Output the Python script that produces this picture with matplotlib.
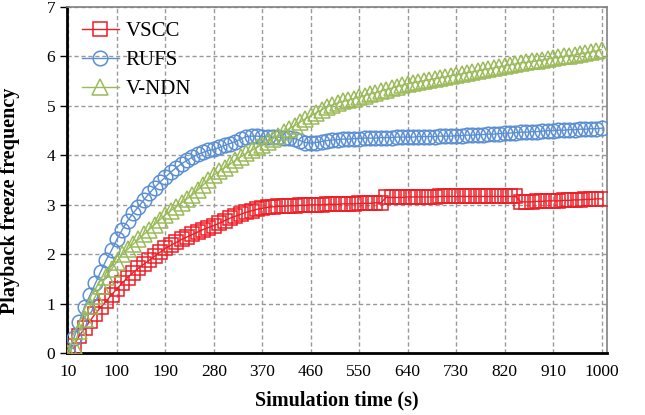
import numpy as np
import matplotlib
matplotlib.use("Agg")
import matplotlib.pyplot as plt

plt.rcParams['font.family'] = ['Liberation Serif', 'DejaVu Serif']

# simulation time (s), one point every 10 s
time_s = list(range(10, 1001, 10))

vscc = [0.00, 0.15, 0.35, 0.50, 0.65, 0.80, 0.93, 1.05, 1.18, 1.30,
        1.42, 1.53, 1.63, 1.72, 1.80, 1.88, 1.96, 2.04, 2.12, 2.18,
        2.24, 2.30, 2.35, 2.40, 2.45, 2.50, 2.54, 2.58, 2.63, 2.68,
        2.73, 2.77, 2.81, 2.85, 2.88, 2.91, 2.93, 2.95, 2.96, 2.97,
        2.97, 2.98, 2.98, 2.99, 2.99, 3.00, 3.00, 3.00, 3.01, 3.01,
        3.01, 3.02, 3.02, 3.02, 3.03, 3.03, 3.03, 3.04, 3.04, 3.15,
        3.15, 3.15, 3.15, 3.16, 3.16, 3.16, 3.16, 3.16, 3.16, 3.17,
        3.17, 3.17, 3.17, 3.17, 3.17, 3.17, 3.17, 3.17, 3.17, 3.17,
        3.17, 3.17, 3.17, 3.17, 3.06, 3.06, 3.06, 3.07, 3.07, 3.08,
        3.08, 3.08, 3.09, 3.09, 3.10, 3.10, 3.11, 3.11, 3.12, 3.12]

rufs = [0.00, 0.30, 0.63, 0.94, 1.17, 1.41, 1.65, 1.88, 2.08, 2.30,
        2.50, 2.68, 2.83, 2.96, 3.10, 3.23, 3.35, 3.46, 3.56, 3.66,
        3.75, 3.83, 3.90, 3.96, 4.02, 4.06, 4.10, 4.12, 4.16, 4.20,
        4.24, 4.28, 4.33, 4.38, 4.39, 4.39, 4.38, 4.38, 4.37, 4.37,
        4.36, 4.35, 4.34, 4.30, 4.26, 4.25, 4.26, 4.28, 4.30, 4.31,
        4.32, 4.33, 4.33, 4.34, 4.34, 4.35, 4.35, 4.35, 4.36, 4.36,
        4.36, 4.37, 4.37, 4.37, 4.37, 4.38, 4.38, 4.38, 4.38, 4.39,
        4.39, 4.39, 4.40, 4.40, 4.41, 4.41, 4.42, 4.42, 4.43, 4.43,
        4.44, 4.45, 4.45, 4.46, 4.47, 4.47, 4.48, 4.48, 4.49, 4.50,
        4.50, 4.51, 4.51, 4.52, 4.52, 4.53, 4.53, 4.54, 4.54, 4.55]

vndn = [0.00, 0.15, 0.45, 0.70, 0.95, 1.15, 1.35, 1.55, 1.70, 1.85,
        2.00, 2.10, 2.20, 2.30, 2.40, 2.50, 2.60, 2.70, 2.80, 2.88,
        2.96, 3.04, 3.12, 3.20, 3.30, 3.40, 3.50, 3.60, 3.68, 3.75,
        3.82, 3.90, 3.97, 4.04, 4.10, 4.16, 4.22, 4.28, 4.34, 4.40,
        4.47, 4.54, 4.60, 4.67, 4.74, 4.80, 4.86, 4.92, 4.98, 5.02,
        5.06, 5.09, 5.12, 5.15, 5.18, 5.21, 5.24, 5.27, 5.30, 5.33,
        5.36, 5.39, 5.42, 5.45, 5.47, 5.49, 5.51, 5.53, 5.55, 5.57,
        5.59, 5.61, 5.63, 5.65, 5.67, 5.69, 5.71, 5.73, 5.75, 5.77,
        5.79, 5.81, 5.83, 5.85, 5.87, 5.88, 5.90, 5.91, 5.93, 5.95,
        5.97, 5.98, 6.00, 6.02, 6.03, 6.05, 6.07, 6.09, 6.11, 6.14]

x_ticks = [10, 100, 190, 280, 370, 460, 550, 640, 730, 820, 910, 1000]
y_ticks = [0, 1, 2, 3, 4, 5, 6, 7]

fig = plt.figure(figsize=(6.45, 4.15), dpi=100)
ax = fig.add_axes([0.104, 0.149, 0.837, 0.834])

ax.plot(time_s, vscc, color='#EE1C25', lw=1, marker='s', ms=10,
        mfc='none', mec='#EE1C25', mew=1.1, label='VSCC', zorder=3)
ax.plot(time_s, rufs, color='#5B8FD4', lw=1, marker='o', ms=10.5,
        mfc='none', mec='#5B8FD4', mew=1.1, label='RUFS', zorder=3)
ax.plot(time_s, vndn, color='#9BBB59', lw=1, marker='^', ms=11,
        mfc='none', mec='#9BBB59', mew=1.1, label='V-NDN', zorder=3)

ax.set_xlim(7.5, 1010)
ax.set_ylim(0, 7)
ax.set_xticks(x_ticks)
ax.set_yticks(y_ticks)
ax.tick_params(axis='x', length=0, labelsize=12.5, pad=8)
ax.tick_params(axis='y', length=5, width=1, labelsize=12.5, direction='out')
ax.grid(True, color='#999999', ls=(0, (3, 2)), lw=1)
ax.set_axisbelow(True)

for s in ['left', 'bottom']:
    ax.spines[s].set_linewidth(2)
    ax.spines[s].set_color('black')
for s in ['top', 'right']:
    ax.spines[s].set_linewidth(1.2)
    ax.spines[s].set_color('#808080')

ax.set_xlabel('Simulation time (s)', fontsize=14.5, fontweight='bold', labelpad=7)
ax.set_ylabel('Playback freeze frequency', fontsize=14.5, fontweight='bold')
ax.yaxis.set_label_coords(-0.087, 0.44)

ax.legend(loc='upper left', frameon=False, fontsize=15, handlelength=1.8,
          handletextpad=0.3, labelspacing=0.45, borderaxespad=0.3,
          bbox_to_anchor=(0.0, 1.0))

fig.savefig('out.png', dpi=100)
